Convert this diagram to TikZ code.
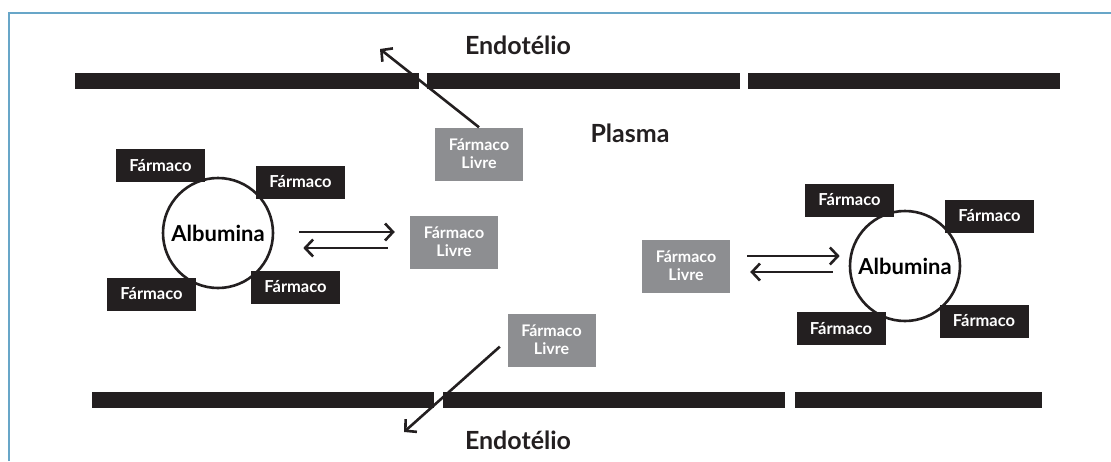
\documentclass[tikz,border=0pt]{standalone}
\usepackage{fontspec}
\setmainfont{Lato}
\usetikzlibrary{arrows.meta}

\definecolor{farmblack}{RGB}{35,31,32}
\definecolor{livregray}{RGB}{141,142,145}
\definecolor{moldura}{RGB}{104,166,200}

\begin{document}
\begin{tikzpicture}[x=1pt, y=-1pt, >={Straight Barb[length=8pt,width=17pt]},
    farmaco/.style={fill=farmblack, text=white, minimum width=89pt, minimum height=33pt,
      inner sep=0pt, font=\bfseries\fontsize{16.5}{18}\selectfont},
    livre/.style={fill=livregray, text=white, align=center, minimum width=88pt,
      minimum height=53pt, inner sep=0pt, font=\bfseries\fontsize{16}{18}\selectfont},
    albumina/.style={circle, draw=farmblack, line width=2.6pt, fill=white,
      minimum size=110pt, inner sep=0pt, font=\bfseries\fontsize{22}{24}\selectfont},
    titulo/.style={text=farmblack, font=\bfseries\fontsize{25}{28}\selectfont},
    seta/.style={->, line width=2.6pt, draw=farmblack}]
    \useasboundingbox (0,0) rectangle (1111,461);

    % Moldura
    \draw[moldura, line width=2pt] (9,461) -- (9,13) -- (1111,13);

    % Endotelio (em cima e em baixo)
    \fill[farmblack] (75,73) rectangle (419,89);
    \fill[farmblack] (427,73) rectangle (740,89);
    \fill[farmblack] (748,73) rectangle (1060,89);
    \fill[farmblack] (92,392) rectangle (434,408);
    \fill[farmblack] (443,392) rectangle (785,408);
    \fill[farmblack] (795,392) rectangle (1042,408);
    \node[titulo] (endoTop) at (518,45) {Endotélio};
    \node[titulo] (endoBot) at (518,440) {Endotélio};
    \node[titulo] (plasma) at (630,133) {Plasma};

    % Albumina com farmaco ligado -- esquerda
    \node[albumina] (albL) at (218,233) {Albumina};
    \node[farmaco] (fL1) at (160.5,165.5) {Fármaco};
    \node[farmaco] (fL2) at (300.5,182) {Fármaco};
    \node[farmaco] (fL3) at (151.5,294) {Fármaco};
    \node[farmaco] (fL4) at (295.5,287) {Fármaco};
    \node[livre] (livreL) at (454,242) {Fármaco\\Livre};

    % Albumina com farmaco ligado -- direita
    \node[albumina] (albR) at (905,266) {Albumina};
    \node[farmaco] (fR1) at (849.5,200) {Fármaco};
    \node[farmaco] (fR2) at (989.5,216) {Fármaco};
    \node[farmaco] (fR3) at (841,328.5) {Fármaco};
    \node[farmaco] (fR4) at (984,321) {Fármaco};
    \node[livre] (livreR) at (686,266) {Fármaco\\Livre};

    % Equilibrio ligado <-> livre
    \draw[seta, shorten <=25pt, shorten >=15pt]
      ([yshift=10pt]livreL.west -| albL.east) -- ([yshift=10pt]livreL.west);
    \draw[seta, shorten <=22pt, shorten >=29pt]
      ([yshift=-6pt]livreL.west) -- ([yshift=-6pt]livreL.west -| albL.east);
    \draw[seta, shorten <=17pt, shorten >=9pt]
      ([yshift=10pt]livreR.east) -- ([yshift=10pt]livreR.east -| albR.west);
    \draw[seta, shorten <=16pt, shorten >=20pt]
      ([yshift=-6pt]livreR.east -| albR.west) -- ([yshift=-6pt]livreR.east);

    % Farmaco livre atravessa o endotelio
    \node[livre] (topFree) at (479,154) {Fármaco\\Livre};
    \node[livre] (botFree) at (551.5,340) {Fármaco\\Livre};
    \coordinate (saidaTop) at (380,49);
    \coordinate (saidaBot) at (404,432);
    \draw[seta] (topFree.north) -- (saidaTop);
    \draw[seta, shorten <=10pt] (botFree.west) -- (saidaBot);
\end{tikzpicture}
\end{document}
